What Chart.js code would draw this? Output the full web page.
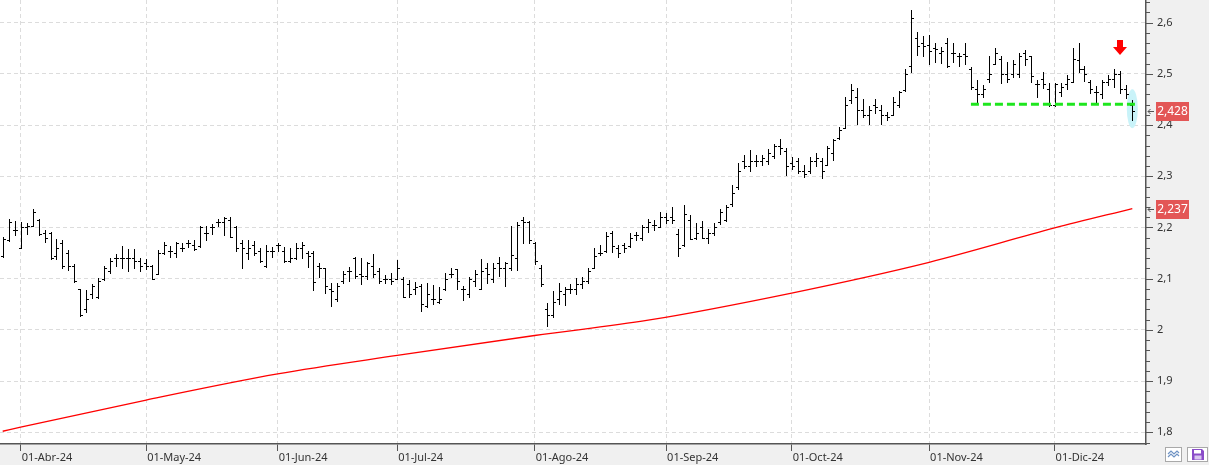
<!DOCTYPE html>
<html><head><meta charset="utf-8">
<script src="https://cdn.jsdelivr.net/npm/chart.js@4/dist/chart.umd.min.js"></script>
<style>
html,body{margin:0;padding:0;background:#f0f0f0;overflow:hidden}
#wrap{position:relative;width:1209px;height:465px}
#c{display:block}
.ico{position:absolute;top:447px;height:15px;border:1px solid #a9a9a9;background:#fff;box-sizing:border-box}
.ico svg{display:block}
</style></head><body>
<div id="wrap"><canvas id="c" width="1209" height="465"></canvas>
<div class="ico" style="left:1165px;width:17px"><svg width="15" height="13" viewBox="0 0 15 13"><polyline points="2,6 5,3 8,6 11,3 13,5" fill="none" stroke="#6f93c4" stroke-width="1.2"/><polyline points="2,9 5,6 8,9 11,6 13,8" fill="none" stroke="#6f93c4" stroke-width="1.2"/></svg></div>
<div class="ico" style="left:1187px;width:21px"><svg width="19" height="13" viewBox="0 0 19 13"><path d="M4 1h10l2 2v9H4z" fill="#8a4cc9"/><rect x="6" y="2" width="7" height="3.5" fill="#fff"/><rect x="6.5" y="7.5" width="7" height="4" fill="#d9c6ef"/></svg></div>
</div>
<script>
// ---- data ----
const highs = [2.181,2.216,2.213,2.210,2.208,2.236,2.216,2.196,2.192,2.177,2.176,2.156,2.128,2.080,2.078,2.089,2.101,2.125,2.140,2.148,
2.164,2.157,2.157,2.141,2.138,2.127,2.156,2.172,2.164,2.172,2.169,2.176,2.176,2.202,2.202,2.207,2.216,2.220,2.221,2.203,
2.176,2.176,2.174,2.159,2.165,2.162,2.170,2.162,2.160,2.169,2.172,2.155,2.155,2.130,2.120,2.092,2.091,2.115,2.122,2.142,
2.140,2.132,2.148,2.120,2.107,2.112,2.136,2.104,2.097,2.094,2.090,2.092,2.088,2.084,2.112,2.120,2.119,2.086,2.103,2.117,
2.138,2.130,2.130,2.143,2.133,2.203,2.211,2.220,2.213,2.172,2.126,2.053,2.075,2.092,2.084,2.090,2.101,2.103,2.120,2.159,
2.166,2.192,2.193,2.166,2.170,2.190,2.192,2.205,2.216,2.215,2.231,2.228,2.240,2.198,2.244,2.224,2.208,2.213,2.198,2.209,
2.236,2.244,2.283,2.325,2.342,2.351,2.342,2.342,2.353,2.364,2.372,2.355,2.337,2.335,2.322,2.337,2.345,2.335,2.359,2.372,
2.397,2.455,2.480,2.472,2.450,2.437,2.450,2.439,2.426,2.454,2.467,2.509,2.625,2.582,2.574,2.576,2.561,2.553,2.570,2.560,
2.541,2.560,2.514,2.489,2.478,2.535,2.550,2.535,2.524,2.528,2.541,2.547,2.535,2.488,2.504,2.482,2.483,2.483,2.498,2.550,
2.560,2.515,2.489,2.476,2.489,2.498,2.509,2.506,2.478,2.449];
const lows = [2.143,2.174,2.185,2.159,2.187,2.202,2.185,2.172,2.138,2.138,2.120,2.117,2.093,2.028,2.034,2.062,2.062,2.097,2.112,2.125,
2.120,2.115,2.120,2.115,2.118,2.099,2.110,2.148,2.143,2.143,2.154,2.161,2.156,2.161,2.176,2.187,2.202,2.185,2.181,2.155,
2.120,2.139,2.146,2.133,2.123,2.143,2.155,2.133,2.133,2.138,2.140,2.123,2.077,2.103,2.073,2.047,2.057,2.091,2.096,2.101,
2.090,2.099,2.104,2.092,2.091,2.090,2.099,2.064,2.064,2.071,2.037,2.045,2.051,2.053,2.078,2.104,2.079,2.058,2.065,2.086,
2.079,2.092,2.094,2.105,2.086,2.116,2.116,2.170,2.169,2.129,2.086,2.007,2.026,2.051,2.049,2.073,2.071,2.081,2.091,2.120,
2.146,2.153,2.153,2.142,2.153,2.161,2.176,2.176,2.192,2.196,2.200,2.209,2.209,2.144,2.164,2.177,2.177,2.179,2.170,2.185,
2.207,2.213,2.242,2.275,2.316,2.311,2.320,2.322,2.324,2.335,2.344,2.303,2.314,2.307,2.299,2.307,2.320,2.296,2.322,2.332,
2.372,2.394,2.443,2.402,2.415,2.402,2.423,2.402,2.409,2.420,2.436,2.467,2.504,2.537,2.535,2.519,2.524,2.521,2.513,2.524,
2.515,2.519,2.470,2.443,2.454,2.485,2.519,2.483,2.485,2.493,2.493,2.517,2.485,2.454,2.472,2.437,2.437,2.456,2.470,2.485,
2.504,2.487,2.463,2.444,2.452,2.478,2.474,2.463,2.452,2.409];
const opens = [2.145,2.175,2.195,2.160,2.200,2.203,2.214,2.190,2.190,2.145,2.170,2.150,2.125,2.080,2.040,2.070,2.065,2.100,2.115,2.140,
2.140,2.140,2.140,2.135,2.130,2.125,2.110,2.150,2.155,2.150,2.160,2.170,2.165,2.163,2.190,2.200,2.210,2.210,2.215,2.200,
2.170,2.150,2.165,2.155,2.125,2.155,2.165,2.155,2.135,2.140,2.160,2.150,2.150,2.125,2.120,2.080,2.060,2.095,2.115,2.140,
2.110,2.105,2.125,2.115,2.100,2.100,2.100,2.100,2.090,2.080,2.085,2.047,2.060,2.055,2.080,2.110,2.118,2.080,2.070,2.095,
2.080,2.120,2.100,2.130,2.120,2.120,2.140,2.215,2.210,2.170,2.120,2.040,2.030,2.060,2.070,2.080,2.080,2.090,2.095,2.120,
2.150,2.155,2.190,2.160,2.165,2.163,2.185,2.180,2.200,2.205,2.200,2.220,2.220,2.187,2.165,2.215,2.180,2.200,2.180,2.190,
2.210,2.215,2.245,2.280,2.330,2.320,2.330,2.330,2.330,2.340,2.360,2.350,2.325,2.330,2.310,2.310,2.330,2.330,2.322,2.345,
2.375,2.395,2.449,2.455,2.430,2.420,2.440,2.430,2.420,2.420,2.440,2.468,2.515,2.570,2.560,2.556,2.550,2.540,2.560,2.540,
2.535,2.539,2.510,2.470,2.460,2.490,2.520,2.530,2.500,2.500,2.500,2.540,2.535,2.480,2.490,2.470,2.440,2.465,2.480,2.485,
2.528,2.510,2.485,2.465,2.460,2.485,2.490,2.500,2.470,2.440];
const closes = [2.178,2.210,2.195,2.200,2.203,2.230,2.187,2.180,2.140,2.160,2.125,2.125,2.095,2.030,2.060,2.085,2.095,2.120,2.135,2.140,
2.140,2.140,2.135,2.125,2.125,2.100,2.150,2.165,2.155,2.170,2.160,2.170,2.158,2.200,2.190,2.200,2.210,2.218,2.182,2.160,
2.160,2.160,2.150,2.135,2.155,2.155,2.165,2.135,2.140,2.160,2.165,2.145,2.093,2.120,2.085,2.075,2.085,2.110,2.115,2.105,
2.105,2.130,2.110,2.095,2.100,2.095,2.120,2.065,2.070,2.083,2.050,2.070,2.060,2.060,2.100,2.110,2.095,2.080,2.100,2.110,
2.115,2.110,2.120,2.120,2.130,2.146,2.205,2.210,2.175,2.135,2.090,2.030,2.055,2.075,2.080,2.080,2.090,2.095,2.115,2.145,
2.150,2.183,2.164,2.150,2.160,2.180,2.185,2.200,2.210,2.205,2.220,2.215,2.215,2.160,2.226,2.178,2.190,2.180,2.190,2.200,
2.230,2.240,2.268,2.310,2.320,2.330,2.330,2.335,2.345,2.360,2.355,2.320,2.320,2.310,2.305,2.330,2.335,2.310,2.355,2.370,
2.390,2.440,2.468,2.430,2.420,2.430,2.435,2.420,2.415,2.445,2.465,2.500,2.610,2.555,2.555,2.545,2.548,2.545,2.515,2.540,
2.535,2.535,2.475,2.460,2.470,2.500,2.540,2.500,2.490,2.520,2.535,2.530,2.495,2.480,2.480,2.440,2.480,2.475,2.490,2.530,
2.510,2.500,2.470,2.465,2.485,2.490,2.500,2.470,2.460,2.428];
const monthStarts = [3, 24, 46, 66, 89, 111, 132, 155, 176];
const monthLabels = ['01-Abr-24','01-May-24','01-Jun-24','01-Jul-24','01-Ago-24','01-Sep-24','01-Oct-24','01-Nov-24','01-Dic-24'];
const maIdx  = [0, 3, 24, 46, 66, 89, 108, 132, 155, 176, 189];
const maVals = [1.802, 1.810, 1.863, 1.914, 1.950, 1.989, 2.019, 2.072, 2.132, 2.199, 2.237];
const supportLevel = 2.4406, supportFrom = 162, supportTo = 189.5;
const signalIdx = 187, signalTip = 2.537;
const highlightIdx = 189, highlightTop = 2.470, highlightBottom = 2.394;
const yMin = 1.7771, yMax = 2.6443, xMin = -0.4518, xMax = 191.29;

const FONT = '"Noto Sans", "Open Sans", sans-serif';
const fmt = v => String(Math.round(v * 1000) / 1000).replace('.', ',');

const bgPlugin = {
  id: 'bg',
  beforeDraw(chart) {
    const {ctx, chartArea: a} = chart;
    ctx.save();
    ctx.fillStyle = '#f0f0f0'; ctx.fillRect(0, 0, chart.width, chart.height);
    ctx.fillStyle = '#ffffff'; ctx.fillRect(a.left, a.top, a.right - a.left, a.bottom - a.top);
    ctx.restore();
  },
  beforeDatasetsDraw(chart) {
    const {ctx, scales: {x: xs, y: ys}} = chart;
    const cx = xs.getPixelForValue(highlightIdx);
    const t = ys.getPixelForValue(highlightTop), b = ys.getPixelForValue(highlightBottom);
    ctx.save();
    ctx.fillStyle = '#c9f3f9';
    ctx.beginPath();
    ctx.ellipse(cx, (t + b) / 2, 5.5, (b - t) / 2, 0, 0, Math.PI * 2);
    ctx.fill();
    ctx.restore();
  }
};

const ohlcPlugin = {
  id: 'ohlc',
  beforeDatasetDraw(chart, args) {
    if (args.index !== 0) return;
    const ctx = chart.ctx, ys = chart.scales.y, a = chart.chartArea;
    ctx.save();
    ctx.beginPath(); ctx.rect(a.left, a.top, a.right - a.left, a.bottom - a.top); ctx.clip();
    ctx.fillStyle = '#000';
    args.meta.data.forEach((el, i) => {
      const x = Math.round(el.x);
      const yh = Math.round(ys.getPixelForValue(highs[i]));
      const yl = Math.round(ys.getPixelForValue(lows[i]));
      const yo = Math.round(ys.getPixelForValue(opens[i]));
      const yc = Math.round(ys.getPixelForValue(closes[i]));
      ctx.fillRect(x, yh, 1, Math.max(1, yl - yh + 1));
      ctx.fillRect(x - 2, yo, 2, 1);
      ctx.fillRect(x + 1, yc, 2, 1);
    });
    ctx.restore();
    return false;
  }
};

const decoPlugin = {
  id: 'deco',
  afterDatasetsDraw(chart) {
    const {ctx, scales: {x: xs, y: ys}} = chart;
    const x = Math.round(xs.getPixelForValue(signalIdx));
    const tip = Math.round(ys.getPixelForValue(signalTip));
    ctx.save();
    ctx.fillStyle = '#ff0000';
    ctx.beginPath();
    ctx.moveTo(x - 3, tip - 15); ctx.lineTo(x + 3, tip - 15); ctx.lineTo(x + 3, tip - 8);
    ctx.lineTo(x + 7, tip - 8); ctx.lineTo(x, tip); ctx.lineTo(x - 7, tip - 8); ctx.lineTo(x - 3, tip - 8);
    ctx.closePath(); ctx.fill();
    ctx.restore();
  },
  afterDraw(chart) {
    const {ctx, chartArea: a, scales: {y: ys}} = chart;
    ctx.save();
    // y axis tick marks (major every 0.1, minor every 0.02)
    ctx.fillStyle = '#555';
    for (let k = Math.ceil(yMin * 50); k <= Math.floor(yMax * 50); k++) {
      const y = Math.round(ys.getPixelForValue(k / 50));
      const len = (k % 5 === 0) ? 7 : 4;
      ctx.fillRect(a.right, y, len, 1);
    }
    // last value tags
    [closes[closes.length - 1], maVals[maVals.length - 1]].forEach(v => {
      const y = Math.round(ys.getPixelForValue(v));
      ctx.fillStyle = '#e35656';
      ctx.fillRect(a.right + 10, y - 9, 33, 19);
      ctx.fillStyle = '#ffffff';
      ctx.font = '12px ' + FONT;
      ctx.textAlign = 'center'; ctx.textBaseline = 'middle';
      ctx.fillText(fmt(v), a.right + 26.5, y + 1);
      ctx.strokeStyle = '#555'; ctx.lineWidth = 1;
      ctx.beginPath();
      ctx.moveTo(a.right + 2, y + 0.5); ctx.lineTo(a.right + 8, y + 0.5);
      ctx.moveTo(a.right + 4.5, y - 2); ctx.lineTo(a.right + 2, y + 0.5); ctx.lineTo(a.right + 4.5, y + 3);
      ctx.stroke();
    });
    ctx.restore();
  }
};

new Chart(document.getElementById('c'), {
  type: 'line',
  data: {
    datasets: [
      { type: 'bar', label: 'Cotización', data: highs.map((h, i) => ({x: i, y: [lows[i], h]})),
        backgroundColor: '#000', barThickness: 1, order: 2 },
      { type: 'line', label: 'Media', data: maIdx.map((x, k) => ({x, y: maVals[k]})),
        borderColor: '#ff0000', borderWidth: 1.3, pointRadius: 0, cubicInterpolationMode: 'monotone', order: 1 },
      { type: 'line', label: 'Soporte', data: [{x: supportFrom, y: supportLevel}, {x: supportTo, y: supportLevel}],
        borderColor: '#1ee61e', borderWidth: 3, borderDash: [8, 4], pointRadius: 0, order: 0 }
    ]
  },
  options: {
    responsive: false, animation: false, devicePixelRatio: 1,
    layout: {padding: 0},
    plugins: {legend: {display: false}, tooltip: {enabled: false}},
    scales: {
      x: {
        type: 'linear', min: xMin, max: xMax, offset: false,
        afterBuildTicks: s => { s.ticks = monthStarts.map(v => ({value: v})); },
        afterFit: s => { s.height = 21; s.paddingLeft = 0; s.paddingRight = 0; },
        ticks: { autoSkip: false, maxRotation: 0, minRotation: 0, align: 'start', labelOffset: 1, padding: 0,
          color: '#333', font: {family: FONT, size: 11},
          callback: v => { const k = monthStarts.indexOf(v); return k >= 0 ? monthLabels[k] : ''; } },
        grid: { color: '#dcdcdc', lineWidth: 1, drawTicks: true, tickLength: 7, tickColor: '#555', tickWidth: 1, offset: false },
        border: { display: true, color: '#555', width: 1.5, dash: [4, 3] }
      },
      y: {
        type: 'linear', position: 'right', min: yMin, max: yMax,
        afterFit: s => { s.width = 63; s.paddingTop = 0; s.paddingBottom = 0; },
        ticks: { stepSize: 0.1, includeBounds: false, padding: 11, color: '#333', font: {family: FONT, size: 11},
          callback: v => fmt(v) },
        grid: { color: '#dcdcdc', lineWidth: 1, drawTicks: false },
        border: { display: true, color: '#555', width: 1.5, dash: [4, 3] }
      }
    }
  },
  plugins: [bgPlugin, ohlcPlugin, decoPlugin]
});
</script>
</body></html>
